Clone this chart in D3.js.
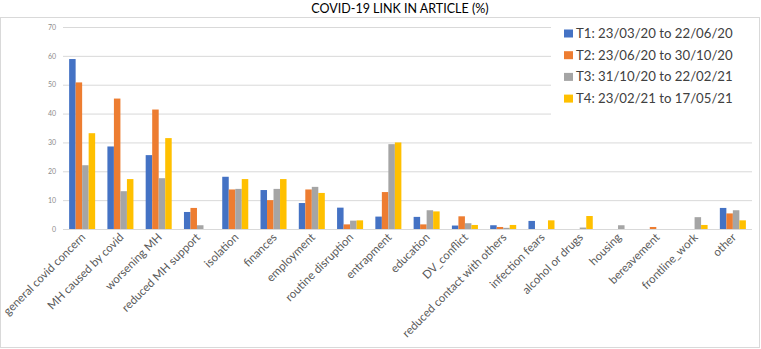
<!DOCTYPE html>
<html>
<head>
<meta charset="utf-8">
<script src="https://cdn.jsdelivr.net/npm/d3@7"></script>
<style>
  body { margin: 0; background: #fff; }
  svg { display: block; font-family: Lato, "Open Sans", sans-serif; }
</style>
</head>
<body>
<div id="chart"></div>
<script>
// Data
const categories = [
    "general covid concern", "MH caused by covid", "worsening MH", "reduced MH support",
    "isolation", "finances", "employment", "routine disruption", "entrapment", "education",
    "DV_conflict", "reduced contact with others", "infection fears", "alcohol or drugs",
    "housing", "bereavement", "frontline_work", "other"
];
const seriesNames = [
    "T1: 23/03/20 to 22/06/20",
    "T2: 23/06/20 to 30/10/20",
    "T3: 31/10/20 to 22/02/21",
    "T4: 23/02/21 to 17/05/21"
];
const t1 = [58.9, 28.6, 25.6, 5.9, 18.1, 13.5, 9.0, 7.4, 4.3, 4.2, 1.2, 1.3, 2.8, 0, 0, 0, 0, 7.3];
const t2 = [50.8, 45.2, 41.4, 7.3, 13.7, 10.0, 13.7, 1.6, 12.8, 1.6, 4.4, 0.7, 0, 0, 0, 0.7, 0, 5.4];
const t3 = [22.1, 13.1, 17.6, 1.3, 13.9, 13.9, 14.6, 2.9, 29.4, 6.5, 2.0, 0.4, 0, 0.5, 1.3, 0, 4.1, 6.5];
const t4 = [33.2, 17.3, 31.5, 0, 17.3, 17.3, 12.5, 3.0, 30.0, 6.1, 1.4, 1.4, 3.0, 4.5, 0, 0, 1.4, 3.0];
const yTicks = [0, 10, 20, 30, 40, 50, 60, 70];
const colors = ["#4472C4", "#ED7D31", "#A5A5A5", "#FFC000"];

const seriesValues = [t1, t2, t3, t4];
const rows = categories.map((c, i) => ({
    cat: c,
    vals: seriesValues.map((s, k) => ({ key: k, v: s[i] }))
}));

/// Lay-out
const W = 761, H = 349;
const plot = { left: 63, right: 752, top: 27, bottom: 229 };

const svg = d3.select("#chart").append("svg")
    .attr("width", W)
    .attr("height", H);

// chart frame
svg.append("rect")
    .attr("x", 0.5).attr("y", 17.5)
    .attr("width", W - 2).attr("height", H - 19)
    .attr("fill", "#fff")
    .attr("stroke", "#d9d9d9");

svg.append("text")
    .attr("x", 400).attr("y", 13)
    .attr("text-anchor", "middle")
    .style("font-size", "12.5px")
    .style("fill", "#000")
    .text("COVID-19 LINK IN ARTICLE (%)");

const x = d3.scaleBand().domain(categories).range([plot.left, plot.right])
    .paddingInner(0.32).paddingOuter(0.16);
const xs = d3.scaleBand().domain(d3.range(seriesNames.length)).range([0, x.bandwidth()]);
const y = d3.scaleLinear().domain([0, 70]).range([plot.bottom, plot.top]);

// gridlines + y labels
const gy = svg.append("g")
    .attr("transform", `translate(${plot.left},0)`)
    .call(d3.axisLeft(y).tickValues(yTicks).tickSize(-(plot.right - plot.left)).tickPadding(7));
gy.select(".domain").remove();
gy.selectAll(".tick line").attr("stroke", "#d9d9d9");
gy.selectAll("text")
    .style("font-family", "Lato, sans-serif")
    .style("font-size", "7px")
    .style("fill", "#8c8c8c");

// bars
svg.append("g").selectAll("g")
    .data(rows)
    .join("g")
    .attr("transform", d => `translate(${x(d.cat)},0)`)
    .selectAll("rect")
    .data(d => d.vals)
    .join("rect")
    .attr("x", d => xs(d.key))
    .attr("width", xs.bandwidth())
    .attr("y", d => y(d.v))
    .attr("height", d => y(0) - y(d.v))
    .attr("fill", d => colors[d.key]);

// category labels
svg.append("g").selectAll("text")
    .data(categories)
    .join("text")
    .attr("transform", d => `translate(${x(d) + x.bandwidth() / 2 + 4},${plot.bottom + 9}) rotate(-45)`)
    .attr("text-anchor", "end")
    .style("font-size", "11.5px")
    .style("fill", "#595959")
    .text(d => d);

// legend, drawn over the plot like the original
const lg = svg.append("g");
lg.append("rect")
    .attr("x", 551).attr("y", 19)
    .attr("width", 206).attr("height", 104)
    .attr("fill", "#fff");
const items = lg.selectAll("g")
    .data(seriesNames)
    .join("g")
    .attr("transform", (d, i) => `translate(564,${33.5 + i * 21.7})`);
items.append("rect")
    .attr("x", 0).attr("y", -4)
    .attr("width", 9).attr("height", 8)
    .attr("fill", (d, i) => colors[i]);
items.append("text")
    .attr("x", 12).attr("y", 4.5)
    .style("font-size", "13.2px")
    .style("fill", "#404040")
    .text(d => d);
</script>
</body>
</html>
